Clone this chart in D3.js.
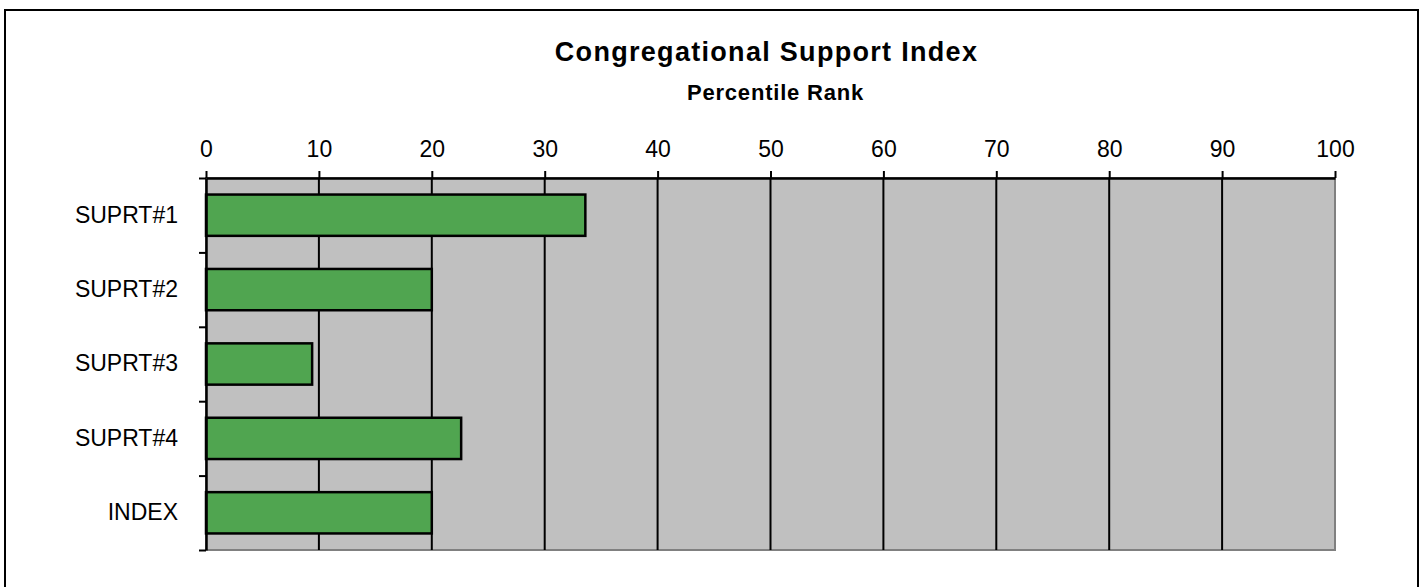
<!DOCTYPE html>
<html>
<head>
<meta charset="utf-8">
<script src="https://cdn.jsdelivr.net/npm/d3@7"></script>
<style>
  body { margin: 0; background: #fff; }
  svg { display: block; font-family: "Liberation Sans", Arial, sans-serif; }
</style>
</head>
<body>
<div id="chart"></div>
<script>
var categories = ["SUPRT#1", "SUPRT#2", "SUPRT#3", "SUPRT#4", "INDEX"];
var percentiles = [33.6, 20, 9.4, 22.6, 20];
var xTicks = [0, 10, 20, 30, 40, 50, 60, 70, 80, 90, 100];

const WIDTH = 1421;
const HEIGHT = 587;

const PLOT_LEFT = 206;
const PLOT_RIGHT = 1335;
const PLOT_TOP = 178;
const PLOT_BOTTOM = 550;

var svg = d3.select("#chart")
    .append("svg")
    .attr("width", WIDTH)
    .attr("height", HEIGHT);

// outer frame (bottom edge runs off the picture)
svg.append("rect")
    .attr("x", 5)
    .attr("y", 10)
    .attr("width", 1413)
    .attr("height", 620)
    .attr("fill", "#fff")
    .attr("stroke", "#000")
    .attr("stroke-width", 2);

var xScale = d3.scaleLinear().domain([0, 100]).range([PLOT_LEFT, PLOT_RIGHT]);
var yScale = d3.scaleBand().domain(categories).range([PLOT_TOP, PLOT_BOTTOM])
    .paddingInner(0.445).paddingOuter(0.2225);
var yEdge = d3.scaleLinear().domain([0, categories.length]).range([PLOT_TOP, PLOT_BOTTOM]);

// plot background
svg.append("rect")
    .attr("x", PLOT_LEFT)
    .attr("y", PLOT_TOP)
    .attr("width", PLOT_RIGHT - PLOT_LEFT)
    .attr("height", PLOT_BOTTOM - PLOT_TOP)
    .attr("fill", "#c0c0c0")
    .attr("stroke", "#808080")
    .attr("stroke-width", 2);

// gridlines
svg.append("g")
    .selectAll("line")
    .data(xTicks.slice(1, -1))
    .enter()
    .append("line")
    .attr("x1", function (d) { return xScale(d); })
    .attr("x2", function (d) { return xScale(d); })
    .attr("y1", PLOT_TOP)
    .attr("y2", PLOT_BOTTOM)
    .attr("stroke", "#000")
    .attr("stroke-width", 2);

// bars
svg.append("g")
    .selectAll("rect")
    .data(percentiles)
    .enter()
    .append("rect")
    .attr("x", xScale(0))
    .attr("y", function (d, i) { return yScale(categories[i]); })
    .attr("width", function (d) { return xScale(d) - xScale(0); })
    .attr("height", yScale.bandwidth())
    .attr("fill", "#50a550")
    .attr("stroke", "#000")
    .attr("stroke-width", 2.5);

// top axis
var xAxis = svg.append("g")
    .attr("transform", "translate(0," + PLOT_TOP + ")")
    .call(d3.axisTop(xScale).tickValues(xTicks).tickSize(7).tickSizeOuter(0).tickPadding(14));
xAxis.select(".domain").attr("stroke-width", 2.5);
xAxis.selectAll(".tick line").attr("stroke-width", 2);
xAxis.selectAll(".tick text")
    .style("font-size", "23px")
    .style("font-family", "'Liberation Sans', Arial, sans-serif")
    .attr("fill", "#000");

// left axis: ticks between categories
var yAxis = svg.append("g")
    .attr("transform", "translate(" + PLOT_LEFT + ",0)")
    .call(d3.axisLeft(yEdge).ticks(categories.length).tickFormat("").tickSize(7).tickSizeOuter(0));
yAxis.select(".domain").attr("stroke-width", 2.5);
yAxis.selectAll(".tick line").attr("stroke-width", 2);

// category labels
var yLabels = svg.append("g")
    .attr("transform", "translate(" + PLOT_LEFT + ",0)")
    .call(d3.axisLeft(yScale).tickSize(0).tickPadding(28));
yLabels.select(".domain").remove();
yLabels.selectAll(".tick text")
    .style("font-size", "23px")
    .style("font-family", "'Liberation Sans', Arial, sans-serif")
    .attr("fill", "#000");

// Title
svg.append("text")
    .attr("x", (PLOT_LEFT + PLOT_RIGHT) / 2 - 4)
    .attr("y", 61)
    .attr("text-anchor", "middle")
    .style("font-size", "27px")
    .style("font-weight", "bold")
    .style("letter-spacing", "1.3px")
    .text("Congregational Support Index");

svg.append("text")
    .attr("x", (PLOT_LEFT + PLOT_RIGHT) / 2 + 5)
    .attr("y", 100)
    .attr("text-anchor", "middle")
    .style("font-size", "22px")
    .style("font-weight", "bold")
    .style("letter-spacing", "0.8px")
    .text("Percentile Rank");
</script>
</body>
</html>
